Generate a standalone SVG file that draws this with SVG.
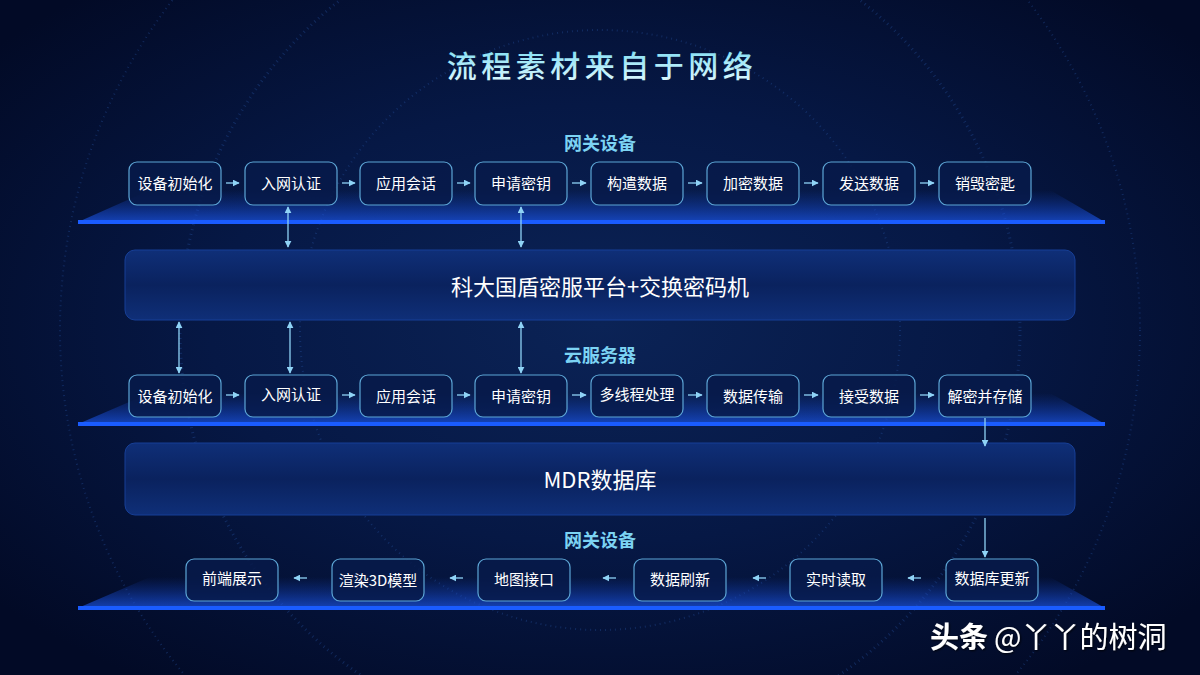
<svg xmlns="http://www.w3.org/2000/svg" width="1200" height="675" viewBox="0 0 1200 675">
<defs>
<radialGradient id="bg" cx="50%" cy="48%" r="65%">
<stop offset="0" stop-color="#0b2356"/>
<stop offset="0.5" stop-color="#061845"/>
<stop offset="1" stop-color="#020a26"/>
</radialGradient>
<linearGradient id="plat" x1="0" y1="0" x2="0" y2="1">
<stop offset="0" stop-color="#1240b8" stop-opacity="0"/>
<stop offset="1" stop-color="#1a52e0" stop-opacity="0.75"/>
</linearGradient>
<linearGradient id="big" x1="0" y1="0" x2="0" y2="1">
<stop offset="0" stop-color="#0f2f78"/>
<stop offset="0.5" stop-color="#0a225e"/>
<stop offset="1" stop-color="#0f2f78"/>
</linearGradient>
<linearGradient id="title" x1="0" y1="0" x2="0" y2="1">
<stop offset="0" stop-color="#6fd9f2"/>
<stop offset="1" stop-color="#e8fbff"/>
</linearGradient>
<marker id="ah" viewBox="0 0 10 10" refX="9" refY="5" markerWidth="7" markerHeight="7" markerUnits="userSpaceOnUse" orient="auto-start-reverse">
<path d="M0,0 L10,5 L0,10 z" fill="#8fd3f6"/>
</marker>
<filter id="sh"><feDropShadow dx="1" dy="1" stdDeviation="0.8" flood-color="#000" flood-opacity="0.8"/></filter>
</defs>
<style>
.box{fill:#071a4a;fill-opacity:0.85;stroke:#5da6d6;stroke-width:1.2}
.bt{font-family:"Noto Sans CJK SC","Noto Sans",sans-serif;font-size:15px;fill:#ffffff;text-anchor:middle}
.lab{font-family:"Noto Sans CJK SC",sans-serif;font-size:18px;font-weight:bold;fill:#7cd3f3;text-anchor:middle}
.big{fill:url(#big);stroke:#173f96;stroke-width:1}
.bigt{font-family:"Noto Sans CJK SC",sans-serif;font-size:22px;fill:#ffffff;text-anchor:middle}
.con line{stroke:#8fd3f6;stroke-width:1.3;fill:none}
.h line{marker-end:url(#ah)}
.v line{marker-start:url(#ah);marker-end:url(#ah)}
.ln{fill:#1a5cff}
.ring{fill:none;stroke:#2a5aa8;stroke-dasharray:1 4;stroke-opacity:0.35}
</style>
<rect width="1200" height="675" fill="url(#bg)"/>
<circle class="ring" cx="600" cy="330" r="300" stroke-width="2"/>
<circle class="ring" cx="600" cy="330" r="420" stroke-width="3"/>
<circle class="ring" cx="600" cy="330" r="540" stroke-width="2"/>

<text x="602" y="77" font-family="Noto Sans CJK SC,sans-serif" font-size="30" font-weight="500" letter-spacing="4.5" fill="url(#title)" text-anchor="middle">流程素材来自于网络</text>

<g id="platforms">
<polygon points="150,190 1050,190 1105,222 78,222" fill="url(#plat)"/>
<rect class="ln" x="78" y="220" width="1027" height="4"/>
<polygon points="150,393 1050,393 1105,424 78,424" fill="url(#plat)"/>
<rect class="ln" x="78" y="422" width="1027" height="4"/>
<polygon points="150,577 1050,577 1105,608 78,608" fill="url(#plat)"/>
<rect class="ln" x="78" y="606" width="1027" height="4"/>
</g>

<text class="lab" x="600" y="150">网关设备</text>
<text class="lab" x="600" y="362">云服务器</text>
<text class="lab" x="600" y="547">网关设备</text>

<g id="platform-kd"><rect class="big" x="125" y="250" width="950" height="70" rx="10"/><text class="bigt" x="600" y="295">科大国盾密服平台+交换密码机</text></g>
<g id="mdr"><rect class="big" x="125" y="443" width="950" height="72" rx="10"/><text class="bigt" x="600" y="488">MDR数据库</text></g>

<g id="r1n1"><rect class="box" x="129" y="162" width="92" height="43" rx="8"/><text class="bt" x="175" y="189">设备初始化</text></g>
<g id="r1n2"><rect class="box" x="245" y="162" width="92" height="43" rx="8"/><text class="bt" x="291" y="189">入网认证</text></g>
<g id="r1n3"><rect class="box" x="360" y="162" width="92" height="43" rx="8"/><text class="bt" x="406" y="189">应用会话</text></g>
<g id="r1n4"><rect class="box" x="475" y="162" width="92" height="43" rx="8"/><text class="bt" x="521" y="189">申请密钥</text></g>
<g id="r1n5"><rect class="box" x="591" y="162" width="92" height="43" rx="8"/><text class="bt" x="637" y="189">构遣数据</text></g>
<g id="r1n6"><rect class="box" x="707" y="162" width="92" height="43" rx="8"/><text class="bt" x="753" y="189">加密数据</text></g>
<g id="r1n7"><rect class="box" x="823" y="162" width="92" height="43" rx="8"/><text class="bt" x="869" y="189">发送数据</text></g>
<g id="r1n8"><rect class="box" x="939" y="162" width="92" height="43" rx="8"/><text class="bt" x="985" y="189">销毁密匙</text></g>

<g id="r2n1"><rect class="box" x="129" y="375" width="92" height="42" rx="8"/><text class="bt" x="175" y="402">设备初始化</text></g>
<g id="r2n2"><rect class="box" x="245" y="375" width="92" height="42" rx="8"/><text class="bt" x="291" y="400">入网认证</text></g>
<g id="r2n3"><rect class="box" x="360" y="375" width="92" height="42" rx="8"/><text class="bt" x="406" y="402">应用会话</text></g>
<g id="r2n4"><rect class="box" x="475" y="375" width="92" height="42" rx="8"/><text class="bt" x="521" y="402">申请密钥</text></g>
<g id="r2n5"><rect class="box" x="591" y="375" width="92" height="42" rx="8"/><text class="bt" x="637" y="400">多线程处理</text></g>
<g id="r2n6"><rect class="box" x="707" y="375" width="92" height="42" rx="8"/><text class="bt" x="753" y="402">数据传输</text></g>
<g id="r2n7"><rect class="box" x="823" y="375" width="92" height="42" rx="8"/><text class="bt" x="869" y="402">接受数据</text></g>
<g id="r2n8"><rect class="box" x="939" y="375" width="92" height="42" rx="8"/><text class="bt" x="985" y="402">解密并存储</text></g>

<g id="r3n1"><rect class="box" x="186" y="559" width="92" height="42" rx="8"/><text class="bt" x="232" y="584">前端展示</text></g>
<g id="r3n2"><rect class="box" x="332" y="559" width="92" height="42" rx="8"/><text class="bt" x="378" y="586">渲染3D模型</text></g>
<g id="r3n3"><rect class="box" x="478" y="559" width="92" height="42" rx="8"/><text class="bt" x="524" y="585">地图接口</text></g>
<g id="r3n4"><rect class="box" x="634" y="559" width="92" height="42" rx="8"/><text class="bt" x="680" y="585">数据刷新</text></g>
<g id="r3n5"><rect class="box" x="790" y="559" width="92" height="42" rx="8"/><text class="bt" x="836" y="585">实时读取</text></g>
<g id="r3n6"><rect class="box" x="946" y="559" width="92" height="42" rx="8"/><text class="bt" x="992" y="584">数据库更新</text></g>

<g id="connectors" class="con">
<g class="h">
<line x1="226" y1="183" x2="239" y2="183"/>
<line x1="342" y1="183" x2="355" y2="183"/>
<line x1="457" y1="183" x2="470" y2="183"/>
<line x1="572" y1="183" x2="586" y2="183"/>
<line x1="688" y1="183" x2="702" y2="183"/>
<line x1="804" y1="183" x2="818" y2="183"/>
<line x1="920" y1="183" x2="934" y2="183"/>
<line x1="226" y1="395" x2="239" y2="395"/>
<line x1="342" y1="395" x2="355" y2="395"/>
<line x1="457" y1="395" x2="470" y2="395"/>
<line x1="572" y1="395" x2="586" y2="395"/>
<line x1="688" y1="395" x2="702" y2="395"/>
<line x1="804" y1="395" x2="818" y2="395"/>
<line x1="920" y1="395" x2="934" y2="395"/>
<line x1="307" y1="578" x2="294" y2="578"/>
<line x1="463" y1="578" x2="450" y2="578"/>
<line x1="616" y1="578" x2="603" y2="578"/>
<line x1="766" y1="578" x2="753" y2="578"/>
<line x1="921" y1="578" x2="908" y2="578"/>
<line x1="985" y1="418" x2="985" y2="446"/>
<line x1="985" y1="518" x2="985" y2="557"/>
</g>
<g class="v">
<line x1="288" y1="207" x2="288" y2="247"/>
<line x1="521" y1="207" x2="521" y2="247"/>
<line x1="179" y1="322" x2="179" y2="373"/>
<line x1="290" y1="322" x2="290" y2="373"/>
<line x1="521" y1="322" x2="521" y2="373"/>
</g>
</g>

<g filter="url(#sh)" font-family="Noto Sans CJK SC,sans-serif" font-size="29" fill="#ffffff">
<text x="930" y="648"><tspan font-weight="bold">头条</tspan><tspan x="994">@丫丫的树洞</tspan></text>
</g>
</svg>
